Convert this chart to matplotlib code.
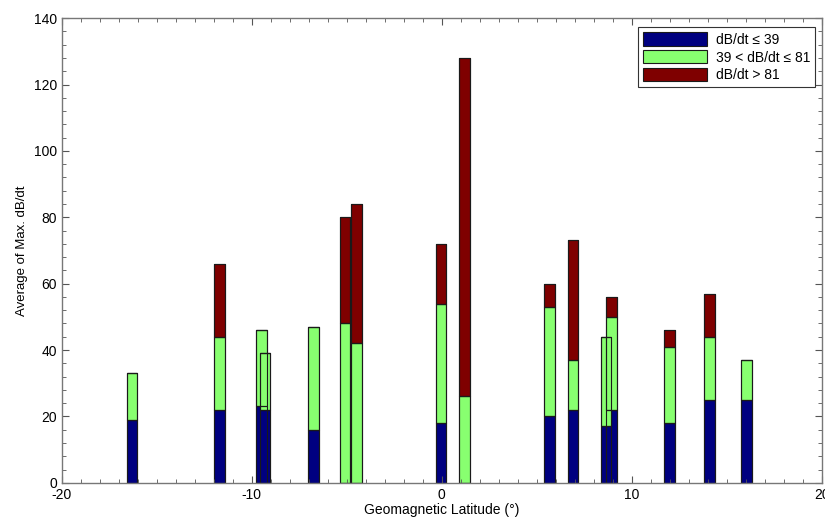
import numpy as np
import matplotlib
matplotlib.use("Agg")
import matplotlib.pyplot as plt
from matplotlib.ticker import MultipleLocator

plt.rcParams['font.family'] = ['Liberation Sans', 'DejaVu Sans']
plt.rcParams['axes.unicode_minus'] = False

# geomagnetic latitude of each station bar
lat = [-16.3, -11.7, -9.5, -9.3, -6.75, -5.1, -4.5, -0.05, 1.2,
       5.67, 6.9, 8.65, 8.95, 12.0, 14.1, 16.05]
# cumulative tops of each stacked segment
top_low = [19, 22, 23, 22, 16, 0, 0, 18, 0, 20, 22, 17, 22, 18, 25, 25]
top_mid = [33, 44, 46, 39, 47, 48, 42, 54, 26, 53, 37, 44, 50, 41, 44, 37]
top_high = [33, 66, 46, 39, 47, 80, 84, 72, 128, 60, 73, 44, 56, 46, 57, 37]

labels = [r"dB/dt ≤ 39", r"39 < dB/dt ≤ 81", r"dB/dt > 81"]
colors = ["#000080", "#88ff70", "#7f0000"]

low = np.array(top_low, dtype=float)
mid = np.array(top_mid, dtype=float) - low
high = np.array(top_high, dtype=float) - np.array(top_mid, dtype=float)

fig = plt.figure(figsize=(8.25, 5.18), dpi=100)
ax = fig.add_axes([0.075, 0.068, 0.921, 0.897])

w = 0.56
ec = "#1a1a1a"
segs = [(low, np.zeros_like(low)), (mid, low), (high, low + mid)]
for (h, b), c, lab in zip(segs, colors, labels):
    ax.bar(lat, h, width=w, bottom=b, color=c, edgecolor=ec, linewidth=0.8, label=lab)
# outlines again on top so overlapping bars both stay visible
for h, b in segs:
    ax.bar(lat, h, width=w, bottom=b, fill=False, edgecolor=ec, linewidth=0.8)

ax.set_xlim(-20, 20)
ax.set_ylim(0, 140)
ax.xaxis.set_major_locator(MultipleLocator(10))
ax.xaxis.set_minor_locator(MultipleLocator(1))
ax.yaxis.set_major_locator(MultipleLocator(20))
ax.yaxis.set_minor_locator(MultipleLocator(4))
ax.tick_params(which="both", direction="in", top=True, right=True,
               color="#555555", labelsize=10)
ax.tick_params(which="major", length=5)
ax.tick_params(which="minor", length=3)
for s in ax.spines.values():
    s.set_color("#777777")
    s.set_linewidth(1.0)

ax.set_xlabel("Geomagnetic Latitude (°)", fontsize=10, labelpad=1)
ax.set_ylabel("Average of Max. dB/dt", fontsize=9.5, labelpad=4)

leg = ax.legend(loc="upper right", fontsize=10, handlelength=4.6, handleheight=1.1,
                fancybox=False, framealpha=1, edgecolor="#333333",
                borderpad=0.35, labelspacing=0.25, handletextpad=0.6,
                bbox_to_anchor=(1.0, 0.995))
leg.get_frame().set_linewidth(0.8)

fig.savefig("out.png", dpi=100)
